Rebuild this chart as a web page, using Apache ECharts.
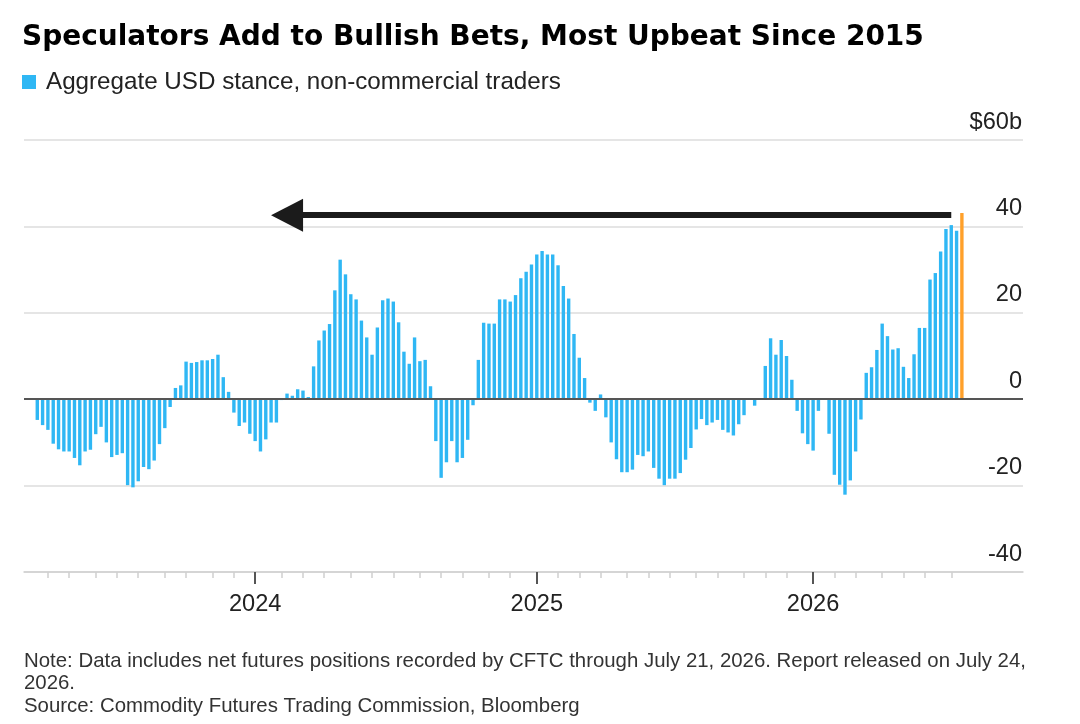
<!DOCTYPE html>
<html>
<head>
<meta charset="utf-8">
<script src="https://cdn.jsdelivr.net/npm/echarts@6/dist/echarts.min.js"></script>
<style>
  html, body { margin: 0; padding: 0; background: #fff; }
  #chart { width: 1080px; height: 724px; }
</style>
</head>
<body>
<div id="chart"></div>
<script>
// weekly CFTC readings, first one 2023-03-21, last one 2026-07-21 ($b)
var firstWeek = '2023-03-21';
var usdStance = [
  -4.8, -6.0, -7.1, -10.3, -11.6, -12.1, -12.1, -13.6, -15.3, -12.1,
  -11.7, -8.1, -6.4, -10.0, -13.4, -12.9, -12.5, -19.9, -20.4, -19.0,
  -15.7, -16.2, -14.2, -10.4, -6.7, -1.8, 2.6, 3.2, 8.7,
  8.4, 8.6, 9.0, 9.0, 9.3, 10.3, 5.1, 1.7, -3.1, -6.2,
  -5.4, -8.0, -9.7, -12.1, -9.3, -5.4, -5.4, -0.2, 1.3, 0.8,
  2.3, 2.0, 0.5, 7.6, 13.6, 15.9, 17.4, 25.2, 32.3, 28.9,
  24.3, 23.1, 18.2, 14.3,
  10.3, 16.6, 22.9, 23.3, 22.6, 17.8, 11.0, 8.2, 14.3, 8.8,
  9.1, 3.0, -9.7, -18.2, -14.6, -9.7, -14.6, -13.6, -9.4, -1.4,
  9.1, 17.7, 17.5, 17.5, 23.1, 23.1, 22.6, 24.1, 28.0, 29.5,
  31.2, 33.5,
  34.3, 33.5, 33.5, 31.0, 26.2, 23.3, 15.1, 9.6, 4.9, -0.8,
  -2.7, 1.1, -4.2, -10.0, -13.9, -16.9, -16.9, -16.3, -12.9, -13.2,
  -12.1, -15.9, -18.4, -19.9, -18.4, -18.4, -17.1, -14.0, -11.3, -7.0,
  -4.6, -6.0,
  -5.4, -4.8, -7.1, -7.7, -8.4, -5.8, -3.7, 0, -1.5, 0.2,
  7.7, 14.1, 10.3, 13.7, 10.0, 4.5, -2.7, -7.9, -10.4, -11.9,
  -2.7, 0, -8.0, -17.5, -19.8, -22.1, -18.8, -12.1, -4.7, 6.1,
  7.4, 11.4,
  17.5, 14.6, 11.5, 11.8, 7.5, 4.9, 10.4, 16.5, 16.5, 27.7,
  29.2, 34.2, 39.4, 40.3, 39.0, 43.1
];
var yTicks = [-40, -20, 0, 20, 40, 60];
var seriesName = 'Aggregate USD stance, non-commercial traders';
// empty weeks the axis carries before and after the data
var padBefore = 2;
var padAfter = 11;
// black arrow: level of the latest reading, drawn back to early 2024
var arrowLevel = 42.6;
var arrowFrom = 49;
var arrowTo = 174;

var blue = '#2fb7f4';
var orange = '#ffa02a';
var font = '"Liberation Sans", Arial, sans-serif';
var titleFont = '"DejaVu Sans", "Liberation Sans", sans-serif';

// build the weekly category list
var weeks = [];
var start = new Date(firstWeek + 'T00:00:00Z');
for (var i = -padBefore; i < usdStance.length + padAfter; i++) {
  var d = new Date(start.getTime() + i * 7 * 86400000);
  weeks.push(d.toISOString().slice(0, 10));
}
var firstIdx = padBefore;
var lastIdx = padBefore + usdStance.length - 1;

var barData = weeks.map(function (w, i) {
  var k = i - padBefore;
  if (k < 0 || k >= usdStance.length) return null;
  if (k === usdStance.length - 1) {
    return { value: usdStance[k], itemStyle: { color: orange } };
  }
  return usdStance[k];
});

function isMonthStart(idx, val) {
  return idx >= firstIdx && idx <= lastIdx && Number(val.slice(8, 10)) <= 7;
}
function isYearStart(idx, val) {
  return isMonthStart(idx, val) && val.slice(5, 7) === '01';
}

var myChart = echarts.init(document.getElementById('chart'));

var option = {
  animation: false,
  textStyle: { fontFamily: font },
  title: [
    {
      text: 'Speculators Add to Bullish Bets, Most Upbeat Since 2015',
      left: 17, top: 19,
      textStyle: { fontSize: 28, fontWeight: 'bold', color: '#000', fontFamily: titleFont }
    },
    {
      text: 'Note: Data includes net futures positions recorded by CFTC through July 21, 2026. Report released on July 24,\n2026.\nSource: Commodity Futures Trading Commission, Bloomberg',
      left: 19, top: 645,
      textStyle: { fontSize: 20.4, fontWeight: 'normal', color: '#333', lineHeight: 22.5, fontFamily: font }
    }
  ],
  legend: {
    left: 17, top: 65,
    icon: 'rect', itemWidth: 14, itemHeight: 14, itemGap: 10,
    selectedMode: false,
    textStyle: { fontSize: 24.2, color: '#222', fontFamily: font, padding: [0, 0, 0, 5] },
    data: [seriesName]
  },
  grid: { left: 24, right: 57, top: 140, bottom: 152 },
  xAxis: [
    {
      type: 'category',
      position: 'bottom',
      data: weeks,
      axisLine: { onZero: false, lineStyle: { color: '#cfcfcf', width: 1.5 } },
      axisTick: { show: true, alignWithLabel: true, interval: isMonthStart, length: 6, lineStyle: { color: '#cfcfcf', width: 1.5 } },
      axisLabel: { show: false },
      splitLine: { show: false }
    },
    {
      type: 'category',
      position: 'bottom',
      data: weeks,
      axisLine: { show: false, onZero: false },
      axisTick: { show: true, alignWithLabel: true, interval: isYearStart, length: 12, lineStyle: { color: '#555', width: 2 } },
      axisLabel: {
        show: true,
        interval: isYearStart,
        margin: 20,
        fontSize: 23.6, color: '#222', fontFamily: font,
        formatter: function (v) { return v.slice(0, 4); }
      },
      splitLine: { show: false }
    }
  ],
  yAxis: {
    type: 'value',
    position: 'right',
    min: yTicks[0], max: yTicks[yTicks.length - 1], interval: 20,
    axisLine: { show: false },
    axisTick: { show: false },
    splitLine: { show: true, lineStyle: { color: '#dcdcdc', width: 1.5 } },
    axisLabel: {
      inside: true, margin: 1,
      verticalAlign: 'bottom', padding: [0, 0, 6, 0],
      fontSize: 23.6, color: '#222', fontFamily: font,
      formatter: function (v) { return v === 60 ? '$60b' : String(v); }
    }
  },
  series: [
    {
      name: seriesName,
      type: 'bar',
      xAxisIndex: 0,
      data: barData,
      barCategoryGap: '36%',
      itemStyle: { color: blue },
      emphasis: { disabled: true },
      markLine: {
        silent: true,
        symbol: ['none', 'none'],
        label: { show: false },
        emphasis: { disabled: true },
        data: [
          { yAxis: 0, lineStyle: { color: '#555', width: 1.8, type: 'solid' } },
          [
            { coord: [arrowFrom, arrowLevel], symbol: 'triangle', symbolSize: [33, 32],
              lineStyle: { color: '#1b1b1b', width: 6, type: 'solid' }, itemStyle: { color: '#1b1b1b' } },
            { coord: [arrowTo, arrowLevel], symbol: 'none' }
          ]
        ]
      }
    }
  ]
};

myChart.setOption(option);
</script>
</body>
</html>
